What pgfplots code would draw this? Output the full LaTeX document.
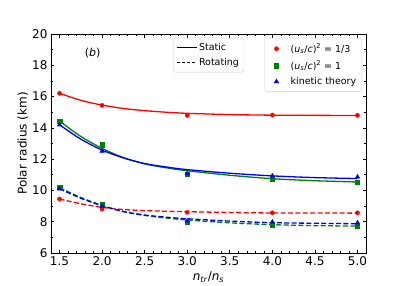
\documentclass[border=0pt]{standalone}
\usepackage{pgfplots}
\pgfplotsset{compat=1.18}
\usepackage{fontspec}
\setmainfont{DejaVu Sans}
\definecolor{mred}{rgb}{1,0,0}
\definecolor{mgreen}{rgb}{0,0.5,0}
\definecolor{mblue}{rgb}{0,0,1}
\begin{document}
\begin{tikzpicture}
\useasboundingbox (-51pt,-32pt) rectangle (356pt,253pt);
\pgfplotsset{
  common/.style={
    scale only axis, width=315pt, height=219pt,
    xmin=1.4, xmax=5.1, ymin=6, ymax=20,
  }
}
\begin{axis}[common,
  xtick={1.5,2,2.5,3,3.5,4,4.5,5},
  ytick={6,8,10,12,14,16,18,20},
  minor x tick num=4, minor y tick num=1,
  tick align=inside,
  major tick length=3.5pt, minor tick length=2pt,
  every tick/.style={black, line width=0.6pt},
  axis line style={black, line width=0.8pt},
  xticklabel style={/pgf/number format/.cd, fixed, fixed zerofill, precision=1, assume math mode=true},
  yticklabel style={/pgf/number format/.cd, assume math mode=true},
  tick label style={font=\fontsize{12}{14}\selectfont},
  label style={font=\fontsize{12}{14}\selectfont},
  xlabel={\textit{n}\textsubscript{\textit{tr}}/\textit{n}\textsubscript{\textit{s}}},
  ylabel={Polar radius (km)},
  xlabel style={at={(axis description cs:0.5,-0.11)}, anchor=center},
  ylabel style={at={(axis description cs:-0.089,0.5)}, anchor=center},
  legend style={at={(0.987,0.982)}, anchor=north east, draw=black!20, fill=white,
    rounded corners=2pt, font=\fontsize{9.5}{11}\selectfont, inner sep=3.5pt,
    row sep=2.5pt},
  legend cell align=left,
  legend image code/.code={\path (0pt,0pt) (20pt,0pt); \draw[#1, mark repeat=2, mark phase=2] plot coordinates {(0pt,0pt)(8pt,0pt)(16pt,0pt)};},
]
% fitted curves
\addplot[mred, line width=1.3pt, smooth, forget plot] coordinates {
(1.5,16.21)(1.75,15.76)(2.0,15.455)(2.25,15.24)(2.5,15.10)(2.75,15.00)(3.0,14.93)(3.5,14.85)(4.0,14.81)(4.5,14.80)(5.0,14.79)};
\addplot[mgreen, line width=1.3pt, smooth, forget plot] coordinates {
(1.5,14.44)(1.75,13.45)(2.0,12.69)(2.25,12.10)(2.5,11.70)(2.75,11.45)(3.0,11.26)(3.5,10.97)(4.0,10.75)(4.5,10.62)(5.0,10.54)};
\addplot[mblue, line width=1.3pt, smooth, forget plot] coordinates {
(1.5,14.20)(1.75,13.28)(2.0,12.58)(2.25,12.08)(2.5,11.72)(2.75,11.50)(3.0,11.33)(3.5,11.10)(4.0,10.93)(4.5,10.82)(5.0,10.76)};
\addplot[mred, line width=1.3pt, smooth, dash pattern=on 5pt off 2.4pt, forget plot] coordinates {
(1.5,9.45)(1.75,9.15)(2.0,8.92)(2.25,8.78)(2.5,8.71)(2.75,8.67)(3.0,8.64)(3.5,8.59)(4.0,8.56)(4.5,8.555)(5.0,8.55)};
\addplot[mgreen, line width=1.3pt, smooth, dash pattern=on 5pt off 2.4pt, forget plot] coordinates {
(1.5,10.18)(1.75,9.55)(2.0,9.05)(2.25,8.65)(2.5,8.40)(2.75,8.24)(3.0,8.11)(3.5,7.93)(4.0,7.81)(4.5,7.75)(5.0,7.72)};
\addplot[mblue, line width=1.3pt, smooth, dash pattern=on 5pt off 2.4pt, forget plot] coordinates {
(1.5,10.11)(1.75,9.50)(2.0,9.02)(2.25,8.65)(2.5,8.43)(2.75,8.29)(3.0,8.19)(3.5,8.04)(4.0,7.94)(4.5,7.90)(5.0,7.87)};
% data points
\addplot[only marks, mark=*, mark size=2.1pt, mred, mark options={draw=mred, fill=mred}] coordinates {
(1.5,16.21)(2,15.44)(3,14.80)(4,14.82)(5,14.80)(1.5,9.45)(2,8.81)(3,8.60)(4,8.57)(5,8.57)};
\addlegendentry{(\textit{u}\textsubscript{\textit{s}}/\textit{c})\textsuperscript{2} = 1/3}
\addplot[only marks, mark=square*, mark size=2.2pt, mgreen, mark options={draw=mgreen, fill=mgreen}] coordinates {
(1.5,14.44)(2,12.92)(3,11.05)(4,10.71)(5,10.54)(1.5,10.20)(2,9.13)(3,7.96)(4,7.80)(5,7.75)};
\addlegendentry{(\textit{u}\textsubscript{\textit{s}}/\textit{c})\textsuperscript{2} = 1}
\addplot[only marks, mark=triangle*, mark size=2.6pt, mblue, mark options={draw=mblue, fill=mblue}] coordinates {
(1.5,14.20)(2,12.52)(3,11.07)(4,10.93)(5,10.86)(1.5,10.10)(2,9.00)(3,8.05)(4,7.98)(5,7.93)};
\addlegendentry{kinetic theory}
\node[font=\fontsize{11}{13}\selectfont] at (axis cs:1.89,18.8) {(\textit{b})};
\end{axis}
\begin{axis}[common, hide axis,
  legend style={at={(0.387,0.982)}, anchor=north west, draw=black!20, fill=white,
    rounded corners=2pt, font=\fontsize{9.5}{11}\selectfont, inner sep=3pt,
    row sep=2.5pt},
  legend cell align=left,
  legend image code/.code={\draw[#1] (0pt,0pt) -- (20pt,0pt);},
]
\addlegendimage{black, line width=0.9pt}
\addlegendentry{Static}
\addlegendimage{black, line width=0.9pt, dash pattern=on 3.5pt off 1.6pt}
\addlegendentry{Rotating}
\end{axis}
\end{tikzpicture}
\end{document}
